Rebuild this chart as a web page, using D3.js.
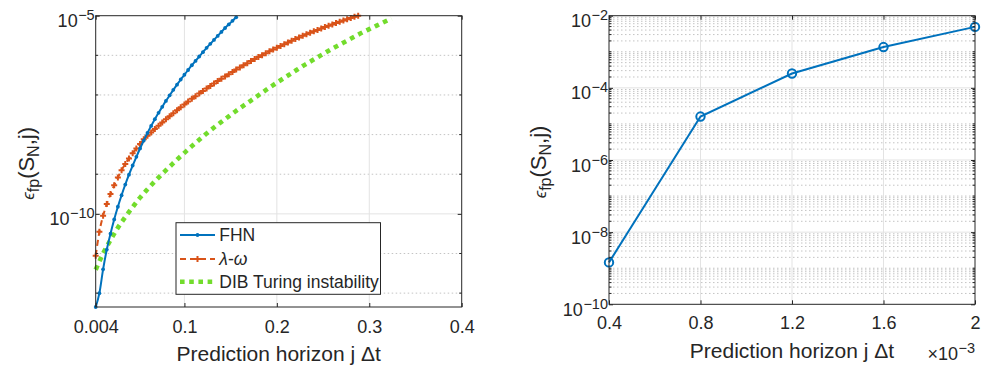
<!DOCTYPE html>
<html>
<head>
<meta charset="utf-8">
<script src="https://cdn.jsdelivr.net/npm/d3@7/dist/d3.min.js"></script>
<style>
  body { margin: 0; background: #fff; }
  text { font-family: "Liberation Sans", Arial, Helvetica, sans-serif; fill: #262626; }
</style>
</head>
<body>
<svg id="fig" width="981" height="370"></svg>
<script>
// ---------- data ----------
// Prediction horizon step (time units) for the three reaction-diffusion models
const dt = 0.004;
// log10 of the fixed-point error at horizons dt, 2dt, 3dt, ...
const fhnLogErr = [
  -12.35, -12.00, -11.40, -10.90, -10.50, -10.14, -9.82, -9.53, -9.26, -9.01,
  -8.78, -8.56, -8.35, -8.15, -7.96, -7.78, -7.61, -7.45, -7.30, -7.15,
  -7.01, -6.87, -6.74, -6.61, -6.49, -6.37, -6.25, -6.14, -6.03, -5.92,
  -5.81, -5.71, -5.61, -5.51, -5.41, -5.31, -5.22, -5.13, -5.04
];
const lamOmegaLogErr = [
  -11.06, -10.45, -10.05, -9.75, -9.50, -9.28, -9.08, -8.90, -8.74, -8.60,
  -8.47, -8.35, -8.24, -8.12, -8.03, -7.945, -7.86, -7.777, -7.695, -7.615,
  -7.537, -7.46, -7.385, -7.311, -7.239, -7.168, -7.098, -7.03, -6.963, -6.898,
  -6.834, -6.771, -6.709, -6.649, -6.59, -6.532, -6.475, -6.419, -6.36, -6.305,
  -6.25, -6.197, -6.145, -6.094, -6.044, -5.995, -5.947, -5.90, -5.853, -5.807,
  -5.764, -5.719, -5.675, -5.632, -5.590, -5.549, -5.509, -5.470, -5.432, -5.395,
  -5.359, -5.323, -5.288, -5.254, -5.220, -5.187, -5.154, -5.122, -5.090, -5.059,
  -5.028, -5.00
];
// DIB model sampled every second step (dt, 3dt, 5dt, ...)
const dibLogErr = [
  -11.41, -11.00, -10.66, -10.35, -10.08, -9.83, -9.59, -9.38, -9.18, -8.99,
  -8.81, -8.63, -8.46, -8.29, -8.13, -7.97, -7.82, -7.68, -7.54, -7.40,
  -7.27, -7.14, -7.01, -6.88, -6.75, -6.63, -6.51, -6.39, -6.27, -6.16,
  -6.05, -5.94, -5.83, -5.73, -5.63, -5.53, -5.43, -5.34, -5.25, -5.16,
  -5.07
];

// Right panel: error against prediction horizon
const horizon    = [0.0004, 0.0008, 0.0012, 0.0016, 0.0020];
const horizonErr = [1.45e-9, 1.6e-5, 2.5e-4, 1.35e-3, 4.9e-3];

// Tick values and labels
const leftXTicks       = [0.004, 0.1, 0.2, 0.3, 0.4];
const leftXTickLabels  = ['0.004', '0.1', '0.2', '0.3', '0.4'];
const leftYTicks       = [1e-10, 1e-5];
const leftYTickExps    = ['−10', '−5'];
const rightXTicks      = [0.0004, 0.0008, 0.0012, 0.0016, 0.0020];
const rightXTickLabels = ['0.4', '0.8', '1.2', '1.6', '2'];
const rightYTicks      = [1e-10, 1e-8, 1e-6, 1e-4, 1e-2];
const rightYTickExps   = ['−10', '−8', '−6', '−4', '−2'];

const legendLabels = ['FHN', 'λ-ω', 'DIB Turing instability'];

// ---------- styling ----------
const C_BLUE = '#0072BD', C_ORANGE = '#D95319', C_GREEN = '#72dc2c';
const AX = '#262626', GRID = '#e3e3e3', MINOR = '#c4c4c4';
const TICK_FS = 18, SUP_FS = 14.5, LABEL_FS = 21, YLABEL_FS = 22;

const svg = d3.select('#fig');

const fhn = fhnLogErr.map((v, i) => ({ x: (i + 1) * dt, y: Math.pow(10, v) }));
const lam = lamOmegaLogErr.map((v, i) => ({ x: (i + 1) * dt, y: Math.pow(10, v) }));
const dib = dibLogErr.map((v, i) => ({ x: (2 * i + 1) * dt, y: Math.pow(10, v) }));

// power-of-ten tick label with superscript exponent
function powLabel(sel, exp) {
  sel.text(null);
  sel.append('tspan').text('10');
  sel.append('tspan').attr('font-size', SUP_FS).attr('dy', -7).attr('dx', 0.5).text(exp);
}

function frame(g, box) {
  g.append('rect')
    .attr('x', box.l).attr('y', box.t)
    .attr('width', box.r - box.l).attr('height', box.b - box.t)
    .attr('fill', 'none').attr('stroke', AX).attr('stroke-width', 1);
}

function hLine(g, y, x0, x1, color, dash) {
  g.append('line').attr('x1', x0).attr('x2', x1).attr('y1', y).attr('y2', y)
    .attr('stroke', color).attr('stroke-width', 1)
    .attr('stroke-dasharray', dash || null);
}
function vLine(g, x, y0, y1, color, dash) {
  g.append('line').attr('x1', x).attr('x2', x).attr('y1', y0).attr('y2', y1)
    .attr('stroke', color).attr('stroke-width', 1)
    .attr('stroke-dasharray', dash || null);
}

// y-axis title: epsilon_fp(S_N, j)
function errorTitle(x, yMid) {
  const t = svg.append('text')
    .attr('transform', `translate(${x},${yMid}) rotate(-90)`)
    .attr('text-anchor', 'middle').attr('font-size', YLABEL_FS);
  t.append('tspan').attr('font-style', 'italic').attr('font-size', 17).text('ϵ');
  t.append('tspan').attr('font-size', 16).attr('dy', 5).text('fp');
  t.append('tspan').attr('dy', -5).text('(S');
  t.append('tspan').attr('font-size', 16).attr('dy', 5).text('N');
  t.append('tspan').attr('dy', -5).text(',j)');
}

function styleAxes(axes, xb, yl, yExps) {
  axes.forEach(a => {
    a.select('.domain').remove();
    a.selectAll('line').attr('stroke', AX);
  });
  xb.selectAll('text').attr('font-size', TICK_FS).attr('fill', AX).attr('dy', '0.72em')
    .style('font-family', '"Liberation Sans", Arial, sans-serif');
  yl.selectAll('.tick text').each(function (d, i) {
    const t = d3.select(this).attr('font-size', TICK_FS).attr('fill', AX)
      .attr('dy', null).attr('y', 11).attr('x', -1)
      .style('font-family', '"Liberation Sans", Arial, sans-serif');
    powLabel(t, yExps[i]);
  });
}

// ================= LEFT PANEL =================
{
  const box = { l: 95.7, r: 461.7, t: 15.7, b: 307 };
  const x = d3.scaleLinear().domain([0.004, 0.4]).range([box.l, box.r]);
  const y = d3.scaleLog().domain([Math.pow(10, fhnLogErr[0]), 1e-5]).range([box.b, box.t]);
  const g = svg.append('g');

  // minor grid at every decade
  const decades = d3.range(-12, -5).map(e => Math.pow(10, e)).filter(v => !leftYTicks.includes(v));
  decades.forEach(v => hLine(g, y(v), box.l, box.r, MINOR, '1.5,2.5'));
  // major grid
  leftYTicks.forEach(v => { if (y(v) > box.t + 1) hLine(g, y(v), box.l, box.r, GRID); });
  leftXTicks.slice(1, -1).forEach(v => vLine(g, x(v), box.t, box.b, GRID));

  // DIB dotted line
  const line = d3.line().x(d => x(d.x)).y(d => y(d.y)).curve(d3.curveMonotoneX);
  g.append('path').datum(dib).attr('d', line)
    .attr('fill', 'none').attr('stroke', C_GREEN).attr('stroke-width', 4.6)
    .attr('stroke-dasharray', '4.6,4.6');

  // lambda-omega dashed line with plus markers
  g.append('path').datum(lam).attr('d', line)
    .attr('fill', 'none').attr('stroke', C_ORANGE).attr('stroke-width', 2)
    .attr('stroke-dasharray', '6,4');
  g.append('g').selectAll('path').data(lam).join('path')
    .attr('d', d => `M${x(d.x) - 3},${y(d.y)}h6M${x(d.x)},${y(d.y) - 3}v6`)
    .attr('stroke', C_ORANGE).attr('stroke-width', 2).attr('fill', 'none');

  // FHN solid line with dot markers
  g.append('path').datum(fhn).attr('d', line)
    .attr('fill', 'none').attr('stroke', C_BLUE).attr('stroke-width', 2);
  g.append('g').selectAll('circle').data(fhn).join('circle')
    .attr('cx', d => x(d.x)).attr('cy', d => y(d.y)).attr('r', 1.9)
    .attr('fill', C_BLUE);

  // axes
  const xb = g.append('g').attr('transform', `translate(0,${box.b})`)
    .call(d3.axisBottom(x).tickValues(leftXTicks).tickSize(-4).tickPadding(13.5)
      .tickFormat((d, i) => leftXTickLabels[i]));
  const xt = g.append('g').attr('transform', `translate(0,${box.t})`)
    .call(d3.axisTop(x).tickValues(leftXTicks).tickSize(-4).tickFormat(''));
  const yl = g.append('g').attr('transform', `translate(${box.l},0)`)
    .call(d3.axisLeft(y).tickValues(leftYTicks).tickSize(-4).tickFormat(() => ''));
  const yr = g.append('g').attr('transform', `translate(${box.r},0)`)
    .call(d3.axisRight(y).tickValues(leftYTicks).tickSize(-4).tickFormat(''));
  styleAxes([xb, xt, yl, yr], xb, yl, leftYTickExps);
  // minor decade ticks
  decades.forEach(v => {
    g.append('line').attr('x1', box.l).attr('x2', box.l + 2.5).attr('y1', y(v)).attr('y2', y(v)).attr('stroke', AX);
    g.append('line').attr('x1', box.r).attr('x2', box.r - 2.5).attr('y1', y(v)).attr('y2', y(v)).attr('stroke', AX);
  });
  frame(g, box);

  // axis titles
  svg.append('text').attr('x', (box.l + box.r) / 2).attr('y', 361)
    .attr('text-anchor', 'middle').attr('font-size', LABEL_FS)
    .text('Prediction horizon j Δt');
  errorTitle(34, (box.t + box.b) / 2 + 2);

  // legend
  const lg = svg.append('g');
  lg.append('rect').attr('x', 176).attr('y', 222.7).attr('width', 204.5).attr('height', 71.6)
    .attr('fill', '#fff').attr('stroke', AX).attr('stroke-width', 1);
  const rows = [235, 259, 281.7];
  // FHN
  lg.append('line').attr('x1', 180).attr('x2', 215).attr('y1', rows[0]).attr('y2', rows[0])
    .attr('stroke', C_BLUE).attr('stroke-width', 2);
  lg.append('circle').attr('cx', 197.5).attr('cy', rows[0]).attr('r', 1.9).attr('fill', C_BLUE);
  // lambda-omega
  lg.append('line').attr('x1', 180).attr('x2', 215).attr('y1', rows[1]).attr('y2', rows[1])
    .attr('stroke', C_ORANGE).attr('stroke-width', 2).attr('stroke-dasharray', '6,4');
  lg.append('path').attr('d', `M${197.5 - 3},${rows[1]}h6M197.5,${rows[1] - 3}v6`)
    .attr('stroke', C_ORANGE).attr('stroke-width', 2);
  // DIB
  lg.append('line').attr('x1', 180).attr('x2', 215).attr('y1', rows[2]).attr('y2', rows[2])
    .attr('stroke', C_GREEN).attr('stroke-width', 4.6).attr('stroke-dasharray', '4.6,4.6');
  legendLabels.forEach((s, i) => {
    const t = lg.append('text').attr('x', 219.3).attr('y', rows[i] + 6.3).attr('font-size', 17.5);
    if (i === 1) {
      t.append('tspan').attr('font-style', 'italic').text('λ');
      t.append('tspan').text('-');
      t.append('tspan').attr('font-style', 'italic').text('ω');
    } else {
      t.text(s);
    }
  });
}

// ================= RIGHT PANEL =================
{
  const box = { l: 609, r: 975, t: 15.7, b: 304.3 };
  const x = d3.scaleLinear().domain([0.0004, 0.002]).range([box.l, box.r]);
  const y = d3.scaleLog().domain([1e-10, 1e-2]).range([box.b, box.t]);
  const g = svg.append('g');

  // minor grid: every 1..9 x 10^k that is not a labelled tick
  const minor = [];
  for (let e = -10; e < -2; e++) for (let m = 1; m <= 9; m++) {
    const v = m * Math.pow(10, e);
    if (!(m === 1 && e % 2 === 0)) minor.push(v);
  }
  minor.forEach(v => hLine(g, y(v), box.l, box.r, MINOR, '1.5,2.5'));
  rightYTicks.slice(1, -1).forEach(v => hLine(g, y(v), box.l, box.r, GRID));
  rightXTicks.slice(1, -1).forEach(v => vLine(g, x(v), box.t, box.b, GRID));

  const pts = horizon.map((h, i) => ({ x: h, y: horizonErr[i] }));
  g.append('path').datum(pts)
    .attr('d', d3.line().x(d => x(d.x)).y(d => y(d.y)))
    .attr('fill', 'none').attr('stroke', C_BLUE).attr('stroke-width', 2);
  g.append('g').selectAll('circle').data(pts).join('circle')
    .attr('cx', d => x(d.x)).attr('cy', d => y(d.y)).attr('r', 4.2)
    .attr('fill', 'none').attr('stroke', C_BLUE).attr('stroke-width', 2);

  const xb = g.append('g').attr('transform', `translate(0,${box.b})`)
    .call(d3.axisBottom(x).tickValues(rightXTicks).tickSize(-4).tickPadding(12.2)
      .tickFormat((d, i) => rightXTickLabels[i]));
  const xt = g.append('g').attr('transform', `translate(0,${box.t})`)
    .call(d3.axisTop(x).tickValues(rightXTicks).tickSize(-4).tickFormat(''));
  const yl = g.append('g').attr('transform', `translate(${box.l},0)`)
    .call(d3.axisLeft(y).tickValues(rightYTicks).tickSize(-4).tickFormat(() => ''));
  const yr = g.append('g').attr('transform', `translate(${box.r},0)`)
    .call(d3.axisRight(y).tickValues(rightYTicks).tickSize(-4).tickFormat(''));
  styleAxes([xb, xt, yl, yr], xb, yl, rightYTickExps);
  minor.forEach(v => {
    g.append('line').attr('x1', box.l).attr('x2', box.l + 2.5).attr('y1', y(v)).attr('y2', y(v)).attr('stroke', AX);
    g.append('line').attr('x1', box.r).attr('x2', box.r - 2.5).attr('y1', y(v)).attr('y2', y(v)).attr('stroke', AX);
  });
  frame(g, box);

  svg.append('text').attr('x', (box.l + box.r) / 2).attr('y', 358)
    .attr('text-anchor', 'middle').attr('font-size', LABEL_FS)
    .text('Prediction horizon j Δt');
  const ex = svg.append('text').attr('x', 975).attr('y', 360).attr('text-anchor', 'end')
    .attr('font-size', TICK_FS);
  ex.append('tspan').text('×10');
  ex.append('tspan').attr('font-size', SUP_FS).attr('dy', -7).attr('dx', 0.5).text('−3');

  errorTitle(546, (box.t + box.b) / 2 + 2);
}
</script>
</body>
</html>
